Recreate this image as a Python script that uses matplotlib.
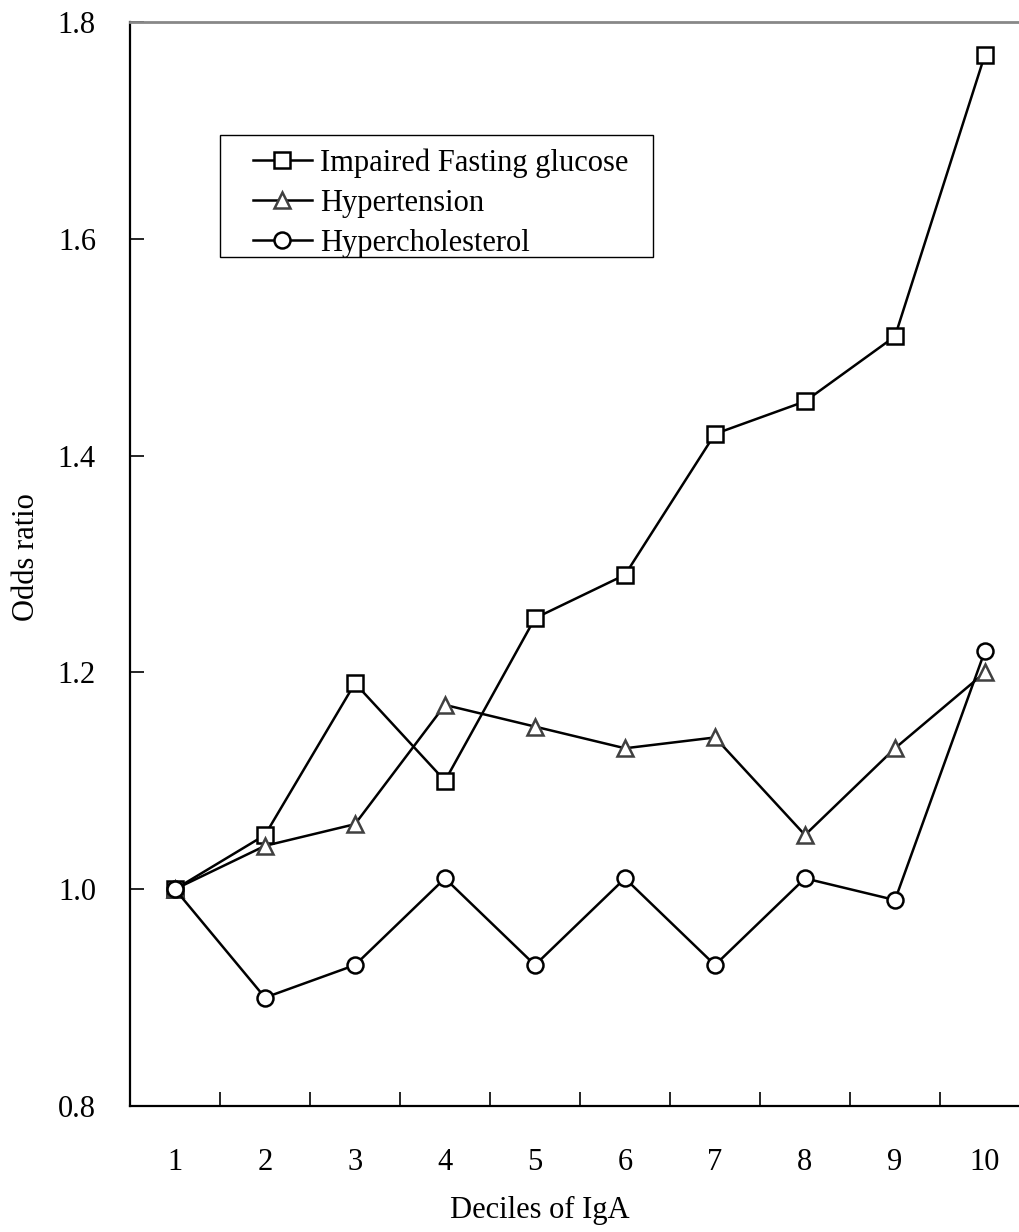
import numpy as np
import matplotlib
matplotlib.use("Agg")
import matplotlib.pyplot as plt
from matplotlib.patches import Rectangle

# odds ratios per decile of IgA
deciles = np.arange(1, 11)
ifg = [1.00, 1.05, 1.19, 1.10, 1.25, 1.29, 1.42, 1.45, 1.51, 1.77]
hypertension = [1.00, 1.04, 1.06, 1.17, 1.15, 1.13, 1.14, 1.05, 1.13, 1.20]
hyperchol = [1.00, 0.90, 0.93, 1.01, 0.93, 1.01, 0.93, 1.01, 0.99, 1.22]
labels = ["Impaired Fasting glucose", "Hypertension", "Hypercholesterol"]

plt.rcParams['font.family'] = ['Liberation Serif', 'DejaVu Serif']
fs = 22
W, H = 1020, 1232

fig = plt.figure(figsize=(W/100, H/100), dpi=100)
ax = fig.add_axes([130/W, 1 - 1106/H, 900/W, 1084/H])

ax.plot(deciles, ifg, color='black', lw=1.8, marker='s', ms=11.5,
        mfc='white', mec='black', mew=1.8, label=labels[0], zorder=3)
ax.plot(deciles, hypertension, color='black', lw=1.8, marker='^', ms=12,
        mfc='white', mec='#404040', mew=1.8, label=labels[1], zorder=3)
ax.plot(deciles, hyperchol, color='black', lw=1.8, marker='o', ms=11.5,
        mfc='white', mec='black', mew=1.8, label=labels[2], zorder=4)

ax.set_xlim(0.5, 10.5)
ax.set_ylim(0.8, 1.8)
yt = np.arange(0.8, 1.81, 0.2)
ax.set_yticks(yt)
ax.set_yticklabels(["%.1f" % v for v in yt])
ax.set_xticks(deciles)
ax.set_xticklabels([str(d) for d in deciles])
ax.set_xticks(np.arange(1.5, 10.5, 1.0), minor=True)

ax.tick_params(axis='x', which='major', length=0, pad=30, labelsize=fs)
ax.tick_params(axis='x', which='minor', direction='in', length=10, width=1.2)
ax.tick_params(axis='y', direction='in', length=10, width=1.2, pad=24.5,
               labelsize=fs)

ax.spines['right'].set_visible(False)
ax.spines['top'].set_color('#888888')
ax.spines['top'].set_linewidth(2)
ax.spines['left'].set_linewidth(1.6)
ax.spines['bottom'].set_linewidth(1.6)

fig.text(27/W, 1 - 557/H, "Odds ratio", rotation=90, fontsize=fs,
         ha='center', va='center')
fig.text(540/W, 1 - 1210/H, "Deciles of IgA", fontsize=fs,
         ha='center', va='center')

# legend without its own frame, box drawn separately
leg = ax.legend(loc='upper left', bbox_to_anchor=(253/W, 1 - 148/H),
                bbox_transform=fig.transFigure, fontsize=fs, frameon=False,
                borderaxespad=0, borderpad=0, handlelength=1.93,
                handletextpad=0.26, labelspacing=0.37)
fig.patches.append(Rectangle((220/W, 1 - 257/H), 433/W, 122/H,
                             transform=fig.transFigure, fill=False,
                             edgecolor='black', lw=1.0))

fig.savefig("out.png", dpi=100)
